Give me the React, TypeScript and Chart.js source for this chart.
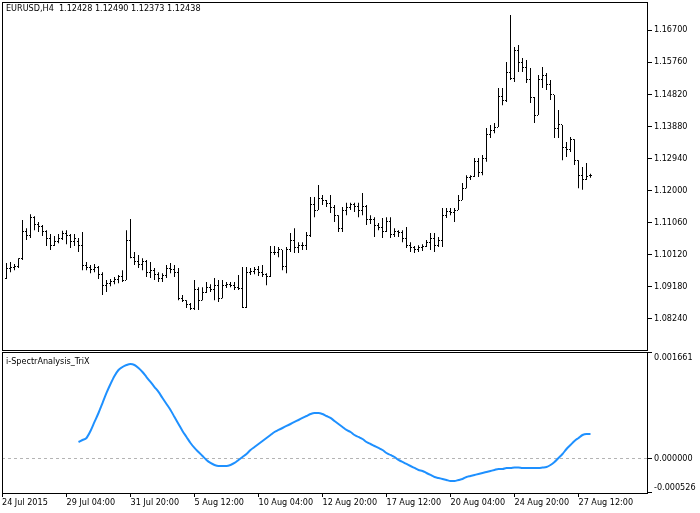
import React, { useEffect, useRef } from 'react';
import { Chart, registerables } from 'chart.js';

Chart.register(...registerables);

const FONT = "'DejaVu Sans Condensed', 'Liberation Sans', sans-serif";

const symbolTitle = 'EURUSD,H4  1.12428 1.12490 1.12373 1.12438';
const indicatorTitle = 'i-SpectrAnalysis_TriX';

const opens = [
  1.0944, 1.0973, 1.0976, 1.0979, 1.1000, 1.1079, 1.1067, 1.1120, 1.1102, 1.1096,
  1.1079, 1.1061, 1.1040, 1.1052, 1.1061, 1.1073, 1.1067, 1.1052, 1.1052, 1.1038,
  1.0982, 1.0976, 1.0970, 1.0976, 1.0953, 1.0923, 1.0929, 1.0935, 1.0941, 1.0947,
  1.0938, 1.1055, 1.1005, 1.0991, 1.0985, 1.0991, 1.0961, 1.0967, 1.0953, 1.0944,
  1.0950, 1.0973, 1.0970, 1.0961, 1.0885, 1.0879, 1.0865, 1.0856, 1.0909, 1.0879,
  1.0903, 1.0915, 1.0909, 1.0923, 1.0885, 1.0923, 1.0926, 1.0923, 1.0915, 1.0912,
  1.0859, 1.0961, 1.0964, 1.0970, 1.0961, 1.0955, 1.0947, 1.1020, 1.1020, 1.1026,
  1.0979, 1.1026, 1.1055, 1.1032, 1.1038, 1.1040, 1.1067, 1.1158, 1.1143, 1.1178,
  1.1172, 1.1161, 1.1149, 1.1128, 1.1090, 1.1143, 1.1149, 1.1158, 1.1152, 1.1143,
  1.1152, 1.1114, 1.1114, 1.1099, 1.1093, 1.1079, 1.1108, 1.1070, 1.1079, 1.1076,
  1.1061, 1.1040, 1.1032, 1.1026, 1.1032, 1.1035, 1.1049, 1.1061, 1.1040, 1.1055,
  1.1128, 1.1140, 1.1137, 1.1143, 1.1172, 1.1207, 1.1237, 1.1240, 1.1284, 1.1254,
  1.1295, 1.1363, 1.1377, 1.1386, 1.1474, 1.1465, 1.1547, 1.1529, 1.1611, 1.1576,
  1.1559, 1.1524, 1.1471, 1.1421, 1.1524, 1.1538, 1.1509, 1.1480, 1.1383, 1.1392,
  1.1325, 1.1319, 1.1348, 1.1289, 1.1245, 1.1231, 1.12428,
];

const highs = [
  1.0988, 1.0991, 1.0985, 1.1002, 1.1114, 1.1090, 1.1131, 1.1125, 1.1108, 1.1099,
  1.1084, 1.1073, 1.1067, 1.1073, 1.1082, 1.1084, 1.1073, 1.1073, 1.1061, 1.1079,
  1.0991, 1.0982, 1.0985, 1.0979, 1.0961, 1.0938, 1.0941, 1.0947, 1.0953, 1.0967,
  1.1084, 1.1117, 1.1020, 1.1011, 1.1002, 1.0997, 1.0991, 1.0973, 1.0961, 1.0958,
  1.0982, 1.0988, 1.0982, 1.0973, 1.0894, 1.0879, 1.0871, 1.0938, 1.0917, 1.0917,
  1.0932, 1.0926, 1.0944, 1.0938, 1.0938, 1.0932, 1.0932, 1.0932, 1.0953, 1.0976,
  1.0976, 1.0973, 1.0976, 1.0979, 1.0982, 1.0958, 1.1038, 1.1038, 1.1035, 1.1026,
  1.1035, 1.1076, 1.1090, 1.1049, 1.1049, 1.1079, 1.1181, 1.1181, 1.1216, 1.1187,
  1.1172, 1.1187, 1.1158, 1.1128, 1.1152, 1.1164, 1.1164, 1.1164, 1.1164, 1.1193,
  1.1158, 1.1128, 1.1122, 1.1105, 1.1120, 1.1122, 1.1122, 1.1090, 1.1084, 1.1084,
  1.1093, 1.1049, 1.1038, 1.1040, 1.1043, 1.1055, 1.1076, 1.1076, 1.1064, 1.1149,
  1.1149, 1.1149, 1.1149, 1.1187, 1.1222, 1.1245, 1.1245, 1.1295, 1.1295, 1.1304,
  1.1383, 1.1392, 1.1398, 1.1500, 1.1500, 1.1576, 1.1714, 1.1620, 1.1626, 1.1588,
  1.1582, 1.1559, 1.1474, 1.1538, 1.1562, 1.1544, 1.1524, 1.1480, 1.1436, 1.1392,
  1.1342, 1.1357, 1.1350, 1.1289, 1.1269, 1.1281, 1.12490,
];

const lows = [
  1.0941, 1.0961, 1.0967, 1.0973, 1.0997, 1.1055, 1.1061, 1.1084, 1.1079, 1.1067,
  1.1038, 1.1026, 1.1038, 1.1046, 1.1055, 1.1043, 1.1032, 1.1038, 1.1020, 1.0967,
  1.0967, 1.0958, 1.0961, 1.0941, 1.0894, 1.0903, 1.0920, 1.0926, 1.0929, 1.0932,
  1.0938, 1.1002, 1.0982, 1.0973, 1.0967, 1.0947, 1.0944, 1.0938, 1.0932, 1.0932,
  1.0944, 1.0958, 1.0947, 1.0879, 1.0874, 1.0856, 1.0850, 1.0850, 1.0850, 1.0879,
  1.0900, 1.0903, 1.0879, 1.0874, 1.0885, 1.0915, 1.0917, 1.0909, 1.0909, 1.0856,
  1.0856, 1.0953, 1.0955, 1.0950, 1.0947, 1.0923, 1.0947, 1.1011, 1.1005, 1.0967,
  1.0958, 1.1020, 1.1017, 1.1017, 1.1026, 1.1026, 1.1064, 1.1122, 1.1143, 1.1158,
  1.1152, 1.1134, 1.1108, 1.1079, 1.1079, 1.1128, 1.1143, 1.1137, 1.1122, 1.1128,
  1.1099, 1.1102, 1.1064, 1.1084, 1.1061, 1.1079, 1.1061, 1.1064, 1.1064, 1.1049,
  1.1032, 1.1020, 1.1017, 1.1020, 1.1023, 1.1035, 1.1026, 1.1020, 1.1035, 1.1035,
  1.1120, 1.1128, 1.1108, 1.1143, 1.1172, 1.1207, 1.1231, 1.1240, 1.1240, 1.1245,
  1.1284, 1.1354, 1.1368, 1.1386, 1.1450, 1.1459, 1.1524, 1.1518, 1.1547, 1.1547,
  1.1515, 1.1456, 1.1398, 1.1421, 1.1500, 1.1494, 1.1465, 1.1354, 1.1354, 1.1289,
  1.1298, 1.1313, 1.1275, 1.1207, 1.1202, 1.1231, 1.12373,
];

const closes = [
  1.0973, 1.0976, 1.0979, 1.1000, 1.1079, 1.1067, 1.1120, 1.1102, 1.1096, 1.1079,
  1.1061, 1.1040, 1.1052, 1.1061, 1.1073, 1.1067, 1.1052, 1.1061, 1.1038, 1.0982,
  1.0976, 1.0970, 1.0976, 1.0953, 1.0923, 1.0929, 1.0935, 1.0941, 1.0947, 1.0938,
  1.1055, 1.1005, 1.0991, 1.0985, 1.0991, 1.0961, 1.0967, 1.0953, 1.0944, 1.0950,
  1.0973, 1.0970, 1.0961, 1.0885, 1.0879, 1.0865, 1.0856, 1.0909, 1.0879, 1.0903,
  1.0915, 1.0909, 1.0923, 1.0885, 1.0923, 1.0926, 1.0923, 1.0915, 1.0912, 1.0859,
  1.0961, 1.0964, 1.0970, 1.0961, 1.0955, 1.0947, 1.1020, 1.1020, 1.1026, 1.0979,
  1.1026, 1.1055, 1.1032, 1.1038, 1.1040, 1.1067, 1.1158, 1.1143, 1.1178, 1.1172,
  1.1161, 1.1149, 1.1128, 1.1090, 1.1143, 1.1149, 1.1158, 1.1152, 1.1143, 1.1152,
  1.1114, 1.1114, 1.1099, 1.1093, 1.1079, 1.1108, 1.1070, 1.1079, 1.1076, 1.1061,
  1.1040, 1.1032, 1.1026, 1.1032, 1.1035, 1.1049, 1.1061, 1.1040, 1.1055, 1.1128,
  1.1140, 1.1137, 1.1143, 1.1172, 1.1207, 1.1237, 1.1240, 1.1284, 1.1254, 1.1295,
  1.1363, 1.1377, 1.1386, 1.1474, 1.1465, 1.1547, 1.1529, 1.1611, 1.1576, 1.1559,
  1.1524, 1.1471, 1.1421, 1.1524, 1.1538, 1.1509, 1.1480, 1.1383, 1.1392, 1.1325,
  1.1319, 1.1348, 1.1289, 1.1245, 1.1231, 1.1242, 1.12438,
];

const trixStart = 18;
const trixValues = [
  0.000261, 0.000292, 0.000324, 0.000434, 0.000576, 0.000717, 0.000874, 0.001032, 0.001173, 0.001299,
  0.001394, 0.001441, 0.001472, 0.001488, 0.001472, 0.001425, 0.001362, 0.001283, 0.001205, 0.001126,
  0.001048, 0.000953, 0.000859, 0.000764, 0.000654, 0.000544, 0.000434, 0.000340, 0.000245, 0.000167,
  0.000104, 0.000041, -0.000022, -0.000069, -0.000101, -0.000117, -0.000117, -0.000117, -0.000101, -0.000069,
  -0.000022, 0.000025, 0.000072, 0.000135, 0.000182, 0.000229, 0.000277, 0.000324, 0.000371, 0.000418,
  0.000450, 0.000481, 0.000513, 0.000544, 0.000576, 0.000607, 0.000639, 0.000670, 0.000701, 0.000717,
  0.000717, 0.000701, 0.000670, 0.000639, 0.000591, 0.000544, 0.000497, 0.000450, 0.000418, 0.000371,
  0.000340, 0.000308, 0.000261, 0.000229, 0.000198, 0.000167, 0.000135, 0.000088, 0.000057, 0.000025,
  -0.000022, -0.000053, -0.000085, -0.000117, -0.000148, -0.000179, -0.000195, -0.000227, -0.000258, -0.000290,
  -0.000305, -0.000321, -0.000337, -0.000353, -0.000353, -0.000337, -0.000321, -0.000290, -0.000274, -0.000258,
  -0.000242, -0.000227, -0.000211, -0.000195, -0.000179, -0.000164, -0.000164, -0.000148, -0.000148, -0.000141,
  -0.000141, -0.000148, -0.000148, -0.000148, -0.000148, -0.000148, -0.000141, -0.000132, -0.000101, -0.000053,
  0.000009, 0.000072, 0.000151, 0.000214, 0.000277, 0.000324, 0.000371, 0.000387, 0.000387,
];

const priceTicks = [1.167, 1.1576, 1.1482, 1.1388, 1.1294, 1.12, 1.1106, 1.1012, 1.0918, 1.0824];
const trixTicks = [0.001661, 0, -0.000526];

const timeLabels = [
  '24 Jul 2015', '29 Jul 04:00', '31 Jul 20:00', '5 Aug 12:00', '10 Aug 04:00',
  '12 Aug 20:00', '17 Aug 12:00', '20 Aug 04:00', '24 Aug 20:00', '27 Aug 12:00',
];
const timeTickBars = [null, 15, 31, 47, 63, 79, 95, 111, 127, 143];

// scale ranges
const xMin = -1.125;
const xMax = 160.125;
const priceMin = 1.073325;
const priceMax = 1.175197;
const trixMin = -0.00054173;
const trixMax = 0.00167673;

const zeroPaddings = (s: any) => {
  s.paddingTop = 0;
  s.paddingBottom = 0;
  s.paddingLeft = 0;
  s.paddingRight = 0;
};

const framePlugin = (title: string, titleY: number) => ({
  id: 'frame_' + titleY,
  afterDraw(chart: any) {
    const { ctx, chartArea } = chart;
    ctx.save();
    ctx.strokeStyle = '#000';
    ctx.lineWidth = 1;
    ctx.setLineDash([]);
    ctx.strokeRect(
      chartArea.left + 0.5,
      chartArea.top + 0.5,
      chartArea.right - chartArea.left,
      chartArea.bottom - chartArea.top
    );
    ctx.fillStyle = '#000';
    ctx.font = '9px ' + FONT;
    ctx.textBaseline = 'middle';
    ctx.textAlign = 'left';
    ctx.fillText(title, chartArea.left + 4, titleY);
    ctx.restore();
  },
});

const ohlcTickPlugin = {
  id: 'ohlcTicks',
  afterDatasetsDraw(chart: any) {
    const { ctx } = chart;
    const x = chart.scales.x;
    const y = chart.scales.y;
    ctx.save();
    ctx.fillStyle = '#000';
    for (let i = 0; i < opens.length; i++) {
      const px = Math.round(x.getPixelForValue(i) - 0.5);
      const yo = Math.round(y.getPixelForValue(opens[i]) - 0.5);
      const yc = Math.round(y.getPixelForValue(closes[i]) - 0.5);
      ctx.fillRect(px - 1, yo, 1, 1);
      ctx.fillRect(px + 1, yc, 1, 1);
    }
    ctx.restore();
  },
};

const subLabelPlugin = {
  id: 'subLabels',
  afterDraw(chart: any) {
    const { ctx, chartArea } = chart;
    const y = chart.scales.y;
    ctx.save();
    ctx.fillStyle = '#000';
    ctx.font = '9px ' + FONT;
    ctx.textBaseline = 'middle';
    ctx.textAlign = 'left';
    trixTicks.forEach((v) => {
      const py = y.getPixelForValue(v);
      const ly = Math.min(Math.max(py, chartArea.top + 6), chartArea.bottom - 5);
      ctx.fillText(v.toFixed(6), chartArea.right + 7, ly);
    });
    ctx.restore();
  },
};

export default function App() {
  const mainRef = useRef<HTMLCanvasElement>(null);
  const subRef = useRef<HTMLCanvasElement>(null);

  useEffect(() => {
    Chart.defaults.font.family = FONT;
    Chart.defaults.font.size = 9;
    Chart.defaults.color = '#000';

    const main = new Chart(mainRef.current as HTMLCanvasElement, {
      type: 'bar',
      data: {
        datasets: [
          {
            type: 'bar',
            label: 'EURUSD',
            data: highs.map((h, i) => ({ x: i, y: [lows[i], h] })) as any,
            backgroundColor: '#000',
            borderWidth: 0,
            barThickness: 1,
            inflateAmount: 0,
            grouped: false,
          } as any,
        ],
      },
      options: {
        animation: false,
        responsive: false,
        events: [],
        layout: { padding: { left: 2, top: 2, right: 0, bottom: 1 } },
        plugins: { legend: { display: false }, tooltip: { enabled: false } },
        scales: {
          x: { type: 'linear', min: xMin, max: xMax, display: false, offset: false } as any,
          y: {
            type: 'linear',
            position: 'right',
            min: priceMin,
            max: priceMax,
            bounds: 'data',
            afterBuildTicks: (s: any) => {
              s.ticks = priceTicks.map((v) => ({ value: v }));
            },
            afterFit: (s: any) => {
              s.width = 53;
              zeroPaddings(s);
            },
            grid: { drawOnChartArea: false, drawTicks: true, tickLength: 5, tickColor: '#000', color: '#000' },
            border: { display: false },
            ticks: {
              color: '#000',
              padding: 2,
              autoSkip: false,
              font: { size: 9, family: FONT },
              callback: (v: any) => Number(v).toFixed(5),
            },
          } as any,
        },
      },
      plugins: [ohlcTickPlugin, framePlugin(symbolTitle, 9)],
    });

    const sub = new Chart(subRef.current as HTMLCanvasElement, {
      type: 'line',
      data: {
        datasets: [
          {
            label: indicatorTitle,
            data: trixValues.map((v, k) => ({ x: trixStart + k, y: v })),
            borderColor: '#1E90FF',
            borderWidth: 2,
            pointRadius: 0,
            cubicInterpolationMode: 'monotone',
            fill: false,
          } as any,
        ],
      },
      options: {
        animation: false,
        responsive: false,
        events: [],
        layout: { padding: { left: 2, top: 1, right: 0, bottom: 0 } },
        plugins: { legend: { display: false }, tooltip: { enabled: false } },
        scales: {
          x: {
            type: 'linear',
            position: 'bottom',
            min: xMin,
            max: xMax,
            bounds: 'data',
            afterBuildTicks: (s: any) => {
              s.ticks = timeTickBars.map((b) => ({ value: b === null ? xMin : b }));
            },
            afterFit: (s: any) => {
              s.height = 20;
              zeroPaddings(s);
            },
            grid: { drawOnChartArea: false, drawTicks: true, tickLength: 4, tickColor: '#000', color: '#000' },
            border: { display: false },
            ticks: {
              autoSkip: false,
              maxRotation: 0,
              minRotation: 0,
              align: 'start',
              padding: 0,
              color: '#000',
              font: { size: 9, family: FONT },
              callback: (_v: any, idx: number) => timeLabels[idx],
            },
          } as any,
          y: {
            type: 'linear',
            position: 'right',
            min: trixMin,
            max: trixMax,
            bounds: 'data',
            afterBuildTicks: (s: any) => {
              s.ticks = trixTicks.map((v) => ({ value: v }));
            },
            afterFit: (s: any) => {
              s.width = 53;
              zeroPaddings(s);
            },
            grid: {
              drawOnChartArea: true,
              drawTicks: true,
              tickLength: 5,
              tickColor: '#000',
              color: (c: any) => (c.tick && c.tick.value === 0 ? '#B4B4B4' : 'rgba(0,0,0,0)'),
            },
            border: { display: false, dash: [3, 3] },
            ticks: { display: false },
          } as any,
        },
      },
      plugins: [subLabelPlugin, framePlugin(indicatorTitle, 11)],
    });

    return () => {
      main.destroy();
      sub.destroy();
    };
  }, []);

  return (
    <div style={{ position: 'absolute', left: 0, top: 0, width: 700, height: 513, background: '#fff' }}>
      <canvas ref={mainRef} width={700} height={351} style={{ position: 'absolute', left: 0, top: 0 }} />
      <canvas ref={subRef} width={700} height={162} style={{ position: 'absolute', left: 0, top: 351 }} />
    </div>
  );
}
